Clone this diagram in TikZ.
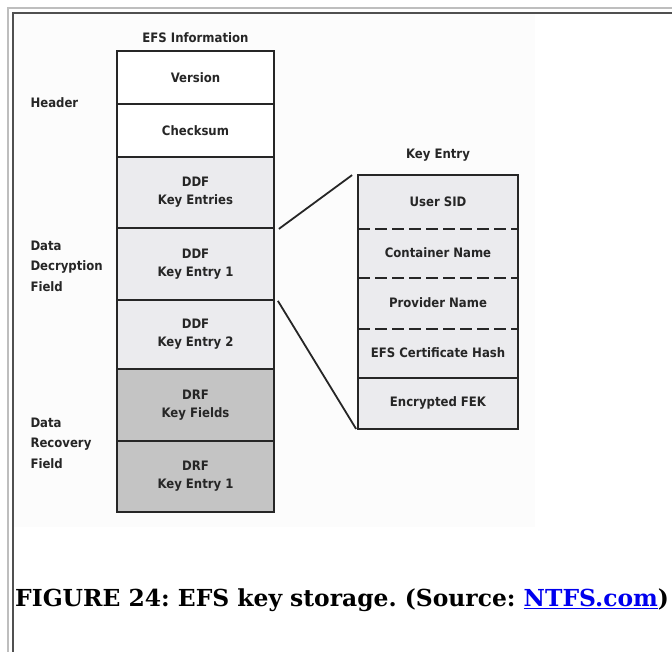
\documentclass[tikz,border=0pt]{standalone}
\usepackage{fontspec}
\setmainfont{DejaVu Serif}
\newfontfamily\diafont{DejaVu Sans Condensed}
\usepackage{xcolor}
\definecolor{ddfgray}{RGB}{235,235,238}
\definecolor{drfgray}{RGB}{196,196,196}
\definecolor{framelight}{RGB}{190,190,190}
\definecolor{framedark}{RGB}{80,80,80}
\definecolor{linkblue}{RGB}{0,0,238}
\frenchspacing
\begin{document}
\begin{tikzpicture}[x=1pt, y=-1pt,
  field/.style={rectangle, draw=black!85, line width=1.8pt, minimum width=157pt, align=center, inner sep=0pt, font=\diafont\bfseries\fontsize{13}{18}\selectfont, text=black!85},
  hdr/.style={field, fill=white},
  ddf/.style={field, fill=ddfgray},
  drf/.style={field, fill=drfgray},
  entry/.style={field, fill=ddfgray, minimum width=158pt, draw=none},
  side/.style={anchor=west, align=left, font=\diafont\bfseries\fontsize{13}{20.5}\selectfont, text=black!85},
  title/.style={font=\diafont\bfseries\fontsize{13}{15}\selectfont, text=black!85},
  dashsep/.style={line width=1.8pt, draw=black!85, dash pattern=on 12pt off 5pt},
  link/.style={line width=1.8pt, draw=black!85}
]
\useasboundingbox (0,0) rectangle (672,652);
% page frame
\fill[white] (0,0) rectangle (672,652);
\fill[black!1] (13,13) rectangle (535,527);
\draw[framelight, line width=1.5pt] (8,652) -- (8,8) -- (672,8);
\draw[framedark, line width=1.5pt] (13,652) -- (13,13) -- (672,13);
% EFS information stack
\node[title] (efsinfo) at (195.5,38) {EFS Information};
\node[hdr, minimum height=53pt] (version) at (195.5,77.5) {Version};
\node[hdr, minimum height=53pt] (checksum) at (195.5,130.5) {Checksum};
\node[ddf, minimum height=71pt] (ddfkeys) at (195.5,192.5) {DDF\\Key Entries};
\node[ddf, minimum height=72pt] (ddf1) at (195.5,264) {DDF\\Key Entry 1};
\node[ddf, minimum height=69pt] (ddf2) at (195.5,334.5) {DDF\\Key Entry 2};
\node[drf, minimum height=72pt] (drfkeys) at (195.5,405) {DRF\\Key Fields};
\node[drf, minimum height=71pt] (drf1) at (195.5,476.5) {DRF\\Key Entry 1};
\node[side] (header) at (27,103) {Header};
\node[side] (ddflabel) at (27,266) {Data\\Decryption\\Field};
\node[side] (drflabel) at (27,443) {Data\\Recovery\\Field};
% key entry
\node[title] (keyentry) at (438,155) {Key Entry};
\node[entry, minimum height=52pt] (usersid) at (438,202) {User SID};
\node[entry, minimum height=49pt] (container) at (438,252.5) {Container Name};
\node[entry, minimum height=51pt] (provider) at (438,302.5) {Provider Name};
\node[entry, minimum height=49pt] (certhash) at (438,352.5) {EFS Certificate Hash};
\node[entry, minimum height=51pt] (fek) at (438,402.5) {Encrypted FEK};
\draw[dashsep] (usersid.south west) -- (usersid.south east);
\draw[dashsep] (container.south west) -- (container.south east);
\draw[dashsep] (provider.south west) -- (provider.south east);
\draw[link] (certhash.south west) -- (certhash.south east);
\draw[link] (usersid.north west) rectangle (fek.south east);
\draw[link] ([xshift=4pt]ddfkeys.south east) -- ([xshift=-6pt]usersid.north west);
\draw[link] ([xshift=3pt]ddf1.south east) -- ([xshift=-2pt]fek.south west);
% caption
\node[anchor=base west, inner sep=0pt, font=\bfseries\fontsize{23.4}{28}\selectfont] (caption) at (15,606) {FIGURE 24: EFS key storage. (Source: \textcolor{linkblue}{\underline{NTFS.com}})};
\end{tikzpicture}
\end{document}
